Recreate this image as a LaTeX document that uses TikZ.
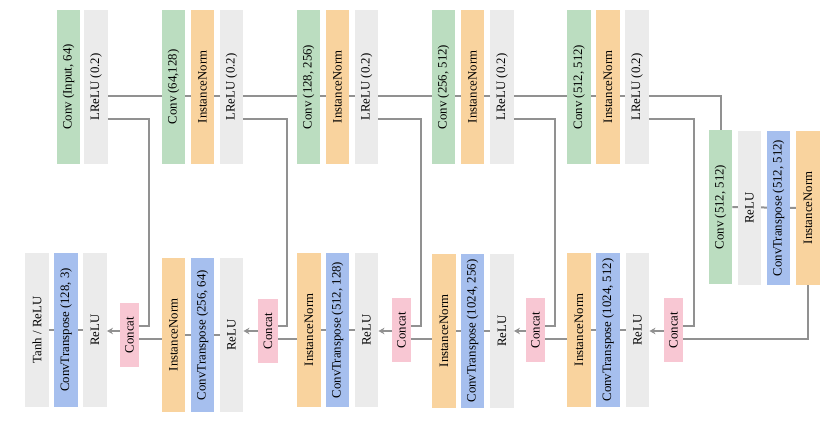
\documentclass[tikz,border=0pt]{standalone}
\usepackage{fontspec}
\setmainfont{Liberation Serif}
\usetikzlibrary{arrows.meta,backgrounds,calc}
\definecolor{convgreen}{RGB}{187,221,192}
\definecolor{normorange}{RGB}{249,211,158}
\definecolor{actgray}{RGB}{235,235,235}
\definecolor{tconvblue}{RGB}{166,191,238}
\definecolor{catpink}{RGB}{248,199,211}
\definecolor{linkgray}{RGB}{145,145,145}
\begin{document}
\begin{tikzpicture}[x=1pt,y=-1pt]
\tikzset{
    >={Stealth[length=6pt,width=6.5pt]},
    link/.style={-, line width=2pt, draw=linkgray},
    blk/.style={rectangle, inner sep=0pt, minimum width=23.5pt, minimum height=154pt,
                font=\fontsize{12.8}{14}\selectfont},
    conv/.style={blk, fill=convgreen},
    norm/.style={blk, fill=normorange},
    act/.style={blk, fill=actgray},
    tconv/.style={blk, fill=tconvblue},
    catbox/.style={blk, fill=catpink, minimum width=19.5pt, minimum height=64pt}
}
\useasboundingbox (0,0) rectangle (830,423);
\node[conv]  (e1a) at (68.5,87)  {\rotatebox{90}{Conv (Input, 64)}};
\node[act]   (e1b) at (96,87)    {\rotatebox{90}{LReLU (0.2)}};
\node[conv]  (e2a) at (173.5,87) {\rotatebox{90}{Conv (64,128)}};
\node[norm]  (e2b) at (202.5,87) {\rotatebox{90}{InstanceNorm}};
\node[act]   (e2c) at (231.5,87) {\rotatebox{90}{LReLU (0.2)}};
\node[conv]  (e3a) at (308.5,87) {\rotatebox{90}{Conv (128, 256)}};
\node[norm]  (e3b) at (337.5,87) {\rotatebox{90}{InstanceNorm}};
\node[act]   (e3c) at (366.5,87) {\rotatebox{90}{LReLU (0.2)}};
\node[conv]  (e4a) at (443.5,87) {\rotatebox{90}{Conv (256, 512)}};
\node[norm]  (e4b) at (472.5,87) {\rotatebox{90}{InstanceNorm}};
\node[act]   (e4c) at (502,87)   {\rotatebox{90}{LReLU (0.2)}};
\node[conv]  (e5a) at (579,87)   {\rotatebox{90}{Conv (512, 512)}};
\node[norm]  (e5b) at (608,87)   {\rotatebox{90}{InstanceNorm}};
\node[act]   (e5c) at (637,87)   {\rotatebox{90}{LReLU (0.2)}};
\node[conv]  (b1)  at (720.5,207) {\rotatebox{90}{Conv (512, 512)}};
\node[act]   (b2)  at (749.5,208) {\rotatebox{90}{ReLU}};
\node[tconv] (b3)  at (778.5,208) {\rotatebox{90}{ConvTranspose (512, 512)}};
\node[norm]  (b4)  at (808,208)   {\rotatebox{90}{InstanceNorm}};
\node[act]   (d1a) at (37,330)    {\rotatebox{90}{Tanh / ReLU}};
\node[tconv] (d1b) at (66,330)    {\rotatebox{90}{ConvTranspose (128, 3)}};
\node[act]   (d1c) at (95,330)    {\rotatebox{90}{ReLU}};
\node[catbox] (c1) at (129.5,335) {\rotatebox{90}{Concat}};
\node[norm]  (d2a) at (173.5,335) {\rotatebox{90}{InstanceNorm}};
\node[tconv] (d2b) at (202.5,335) {\rotatebox{90}{ConvTranspose (256, 64)}};
\node[act]   (d2c) at (231.5,335) {\rotatebox{90}{ReLU}};
\node[catbox] (c2) at (268,331)   {\rotatebox{90}{Concat}};
\node[norm]  (d3a) at (309,330)   {\rotatebox{90}{InstanceNorm}};
\node[tconv] (d3b) at (337.5,330) {\rotatebox{90}{ConvTranspose (512, 128)}};
\node[act]   (d3c) at (366.5,330) {\rotatebox{90}{ReLU}};
\node[catbox] (c3) at (401.5,330) {\rotatebox{90}{Concat}};
\node[norm]  (d4a) at (444,331)   {\rotatebox{90}{InstanceNorm}};
\node[tconv] (d4b) at (472.5,331) {\rotatebox{90}{ConvTranspose (1024, 256)}};
\node[act]   (d4c) at (502,331)   {\rotatebox{90}{ReLU}};
\node[catbox] (c4) at (535.5,330) {\rotatebox{90}{Concat}};
\node[norm]  (d5a) at (579,330)   {\rotatebox{90}{InstanceNorm}};
\node[tconv] (d5b) at (608,330)   {\rotatebox{90}{ConvTranspose (1024, 512)}};
\node[act]   (d5c) at (637.5,330) {\rotatebox{90}{ReLU}};
\node[catbox] (c5) at (673.5,330) {\rotatebox{90}{Concat}};
\coordinate (rtop)  at (0,96);
\coordinate (rskip) at (0,119);
\coordinate (rin)   at (0,326);
\coordinate (rarr)  at (0,331);
\coordinate (rout)  at (0,339);
\begin{scope}[on background layer]
\draw[link] (e1b.east |- rtop) -| (b1.north);
\draw[link] (b1) -- (b4);
\draw[link] (d1a) -- (d1c);
\draw[link] (d2a) -- (d2c);
\draw[link] (d3a) -- (d3c);
\draw[link] (d4a) -- (d4c);
\draw[link] (d5a) -- (d5c);
\end{scope}
\draw[link] (e1b.east |- rskip) -| ($(c1.east |- rin)+(10,0)$) -- (c1.east |- rin);
\draw[link] (e2c.east |- rskip) -| ($(c2.east |- rin)+(9,0)$) -- (c2.east |- rin);
\draw[link] (e3c.east |- rskip) -| ($(c3.east |- rin)+(10,0)$) -- (c3.east |- rin);
\draw[link] (e4c.east |- rskip) -| ($(c4.east |- rin)+(10,0)$) -- (c4.east |- rin);
\draw[link] (e5c.east |- rskip) -| ($(c5.east |- rin)+(11,0)$) -- (c5.east |- rin);
\draw[link] (b4.south) |- (c5.east |- rout);
\draw[link] (d5a.west |- rout) -- (c4.east |- rout);
\draw[link] (d4a.west |- rout) -- (c3.east |- rout);
\draw[link] (d3a.west |- rout) -- (c2.east |- rout);
\draw[link] (d2a.west |- rout) -- (c1.east |- rout);
\draw[link, ->] (c5.west |- rarr) -- (d5c.east |- rarr);
\draw[link, ->] (c4.west |- rarr) -- (d4c.east |- rarr);
\draw[link, ->] (c3.west |- rarr) -- (d3c.east |- rarr);
\draw[link, ->] (c2.west |- rarr) -- (d2c.east |- rarr);
\draw[link, ->] (c1.west |- rarr) -- (d1c.east |- rarr);
\end{tikzpicture}
\end{document}
